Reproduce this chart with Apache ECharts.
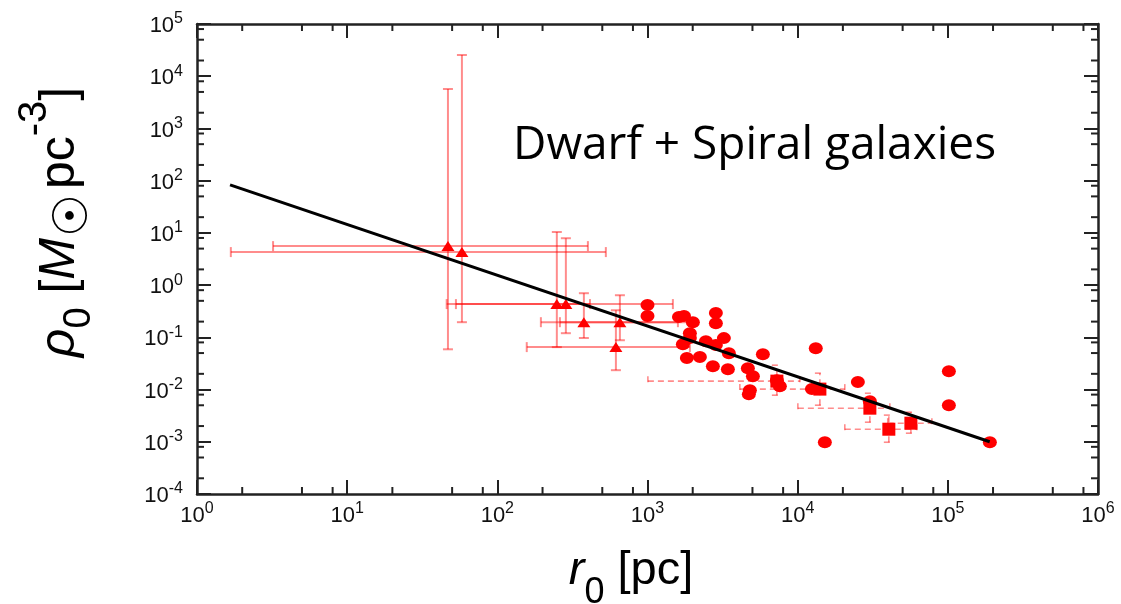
<!DOCTYPE html>
<html>
<head>
<meta charset="utf-8">
<script src="https://cdn.jsdelivr.net/npm/echarts@6/dist/echarts.min.js"></script>
<style>
html, body { margin: 0; padding: 0; background: #fff; }
#main { width: 1121px; height: 604px; }
</style>
</head>
<body>
<div id="main"></div>
<script>
// circles (no error bars)
var circR = [1000, 1000, 1620, 1750, 2005, 2853, 2853, 1915, 1915, 1720, 2448, 2853, 3226, 3483, 1829, 2233, 2725, 3430, 5866, 4660, 5034, 7270, 7610, 4805, 4730, 13200, 12440, 25170, 15170, 101600, 101600, 190500, 30260];
var circRho = [0.414, 0.255, 0.244, 0.255, 0.195, 0.291, 0.187, 0.120, 0.0966, 0.074, 0.0845, 0.071, 0.0966, 0.0498, 0.040, 0.0418, 0.028, 0.0246, 0.0476, 0.0257, 0.018, 0.0151, 0.0116, 0.00975, 0.00817, 0.062, 0.0102, 0.0139, 0.00098, 0.0225, 0.00502, 0.00098, 0.0060];

// triangles, solid error bars
var triR = [46.9, 58.1, 249, 286, 377, 655, 616];
var triRho = [5.58, 4.29, 0.433, 0.433, 0.195, 0.195, 0.065];
var triRLo = [3.21, 1.68, 46, 53, 195, 261, 157];
var triRHi = [401, 528, 1476, 414, 1594, 1915, 1915];
var triRhoLo = [0.059, 0.195, 0.065, 0.12, 0.097, 0.088, 0.0235];
var triRhoHi = [5690, 25500, 10.4, 7.9, 0.70, 0.64, 0.33];

// squares, dashed error bars
var sqR = [7270, 14060, 30260, 40470, 56750];
var sqRho = [0.0145, 0.0102, 0.0044, 0.00174, 0.00227];
var sqRLo = [1006, 4120, 10030, 20600, 39800];
var sqRHi = [10350, 20600, 41100, 62200, 78300];
var sqRhoLo = [0.0078, 0.00502, 0.00237, 0.00098, 0.00146];
var sqRhoHi = [0.0293, 0.0206, 0.0085, 0.00324, 0.00369];

// fitted line
var fitR = [1.66, 1.9e5];
var fitRho = [83, 1.0e-3];

var minorSteps = [2, 5, 8];

function zip(a, b) { return a.map(function(v, i) { return [v, b[i]]; }); }
function errRows(x, y, xl, xh, yl, yh) {
    return x.map(function(v, i) { return [v, y[i], xl[i], xh[i], yl[i], yh[i]]; });
}

function errRender(dash, width) {
    return function(params, api) {
        var x = api.value(0), y = api.value(1);
        var pl = api.coord([api.value(2), y]), ph = api.coord([api.value(3), y]);
        var ql = api.coord([x, api.value(4)]), qh = api.coord([x, api.value(5)]);
        var cap = 5;
        var st = { stroke: 'rgba(255,0,0,0.45)', lineWidth: width, lineDash: dash };
        var seg = function(x1, y1, x2, y2) {
            return { type: 'line', shape: { x1: x1, y1: y1, x2: x2, y2: y2 }, style: st };
        };
        return {
            type: 'group',
            children: [
                seg(pl[0], pl[1], ph[0], ph[1]),
                seg(pl[0], pl[1] - cap, pl[0], pl[1] + cap),
                seg(ph[0], ph[1] - cap, ph[0], ph[1] + cap),
                seg(ql[0], ql[1], qh[0], qh[1]),
                seg(ql[0] - cap, ql[1], ql[0] + cap, ql[1]),
                seg(qh[0] - cap, qh[1], qh[0] + cap, qh[1])
            ]
        };
    };
}

// minor tick positions
var xMinor = [], yMinor = [];
for (var e = 0; e < 6; e++) minorSteps.forEach(function(m) { xMinor.push([m * Math.pow(10, e), 1]); });
for (var e2 = -4; e2 < 5; e2++) minorSteps.forEach(function(m) { yMinor.push([1, m * Math.pow(10, e2)]); });

function minorRender(isX) {
    return function(params, api) {
        var len = 7;
        var st = { stroke: '#222', lineWidth: 2 };
        if (isX) {
            var v = api.value(0);
            var b = api.coord([v, 1e-4]), t = api.coord([v, 1e5]);
            return { type: 'group', children: [
                { type: 'line', shape: { x1: b[0], y1: b[1], x2: b[0], y2: b[1] - len }, style: st },
                { type: 'line', shape: { x1: t[0], y1: t[1], x2: t[0], y2: t[1] + len }, style: st }
            ] };
        }
        var w = api.value(1);
        var l = api.coord([1, w]), r = api.coord([1e6, w]);
        return { type: 'group', children: [
            { type: 'line', shape: { x1: l[0], y1: l[1], x2: l[0] + len, y2: l[1] }, style: st },
            { type: 'line', shape: { x1: r[0], y1: r[1], x2: r[0] - len, y2: r[1] }, style: st }
        ] };
    };
}

function powLabel(v) {
    var n = Math.round(Math.log(v) / Math.LN10);
    return '{b|10}{s|' + n + '}';
}
var labelRich = {
    b: { fontFamily: 'Liberation Sans', fontSize: 22, color: '#111', verticalAlign: 'bottom', lineHeight: 26 },
    s: { fontFamily: 'Liberation Sans', fontSize: 16, color: '#111', verticalAlign: 'top', lineHeight: 26 }
};

var axisLineSt = { lineStyle: { color: '#222', width: 2.5 } };
var tickSt = { inside: true, length: 14, lineStyle: { color: '#222', width: 2 } };

var myChart = echarts.init(document.getElementById('main'));
var option = {
    backgroundColor: '#fff',
    animation: false,
    grid: { left: 197, right: 23, top: 24, bottom: 110 },
    xAxis: [{
        type: 'log', logBase: 10, min: 1, max: 1e6, interval: 1,
        axisLine: axisLineSt, axisTick: tickSt,
        splitLine: { show: false },
        axisLabel: { formatter: powLabel, rich: labelRich, margin: 7 }
    }, {
        type: 'log', logBase: 10, min: 1, max: 1e6, interval: 1, position: 'top',
        axisLine: axisLineSt, axisTick: tickSt,
        splitLine: { show: false }, axisLabel: { show: false }
    }],
    yAxis: [{
        type: 'log', logBase: 10, min: 1e-4, max: 1e5, interval: 1,
        axisLine: axisLineSt, axisTick: tickSt,
        splitLine: { show: false },
        axisLabel: { formatter: powLabel, rich: labelRich, margin: 14 }
    }, {
        type: 'log', logBase: 10, min: 1e-4, max: 1e5, interval: 1, position: 'right',
        axisLine: axisLineSt, axisTick: tickSt,
        splitLine: { show: false }, axisLabel: { show: false }
    }],
    graphic: [{
        type: 'text', left: 513, top: 123,
        style: { text: 'Dwarf + Spiral galaxies', fontFamily: 'Open Sans', fontSize: 46, fill: '#000' }
    }, {
        type: 'text', x: 57, y: 222, rotation: Math.PI / 2,
        style: {
            text: '{i|ρ}{sub|0}{n| [}{i|M}{sun|☉}{n|pc}{sup|-3}{n|]}',
            align: 'center', verticalAlign: 'middle',
            rich: {
                i: { fontFamily: 'Liberation Sans', fontStyle: 'italic', fontSize: 50, fill: '#000', verticalAlign: 'bottom', padding: [0, 0, 14, 0] },
                n: { fontFamily: 'Liberation Sans', fontSize: 50, fill: '#000', verticalAlign: 'bottom', padding: [0, 0, 14, 0] },
                sub: { fontFamily: 'Liberation Sans', fontSize: 38, fill: '#000', verticalAlign: 'bottom', padding: [0, 0, 0, 0] },
                sun: { fontFamily: 'DejaVu Sans', fontSize: 48, fontWeight: 'bold', fill: '#000', verticalAlign: 'bottom', padding: [0, 5, 0, 1] },
                sup: { fontFamily: 'Liberation Sans', fontSize: 40, fill: '#000', verticalAlign: 'bottom', padding: [0, 0, 44, 0] }
            }
        }
    }, {
        type: 'text', x: 631, y: 581,
        style: {
            text: '{i|r}{sub|0}{n| [pc]}',
            align: 'center', verticalAlign: 'middle',
            rich: {
                i: { fontFamily: 'Liberation Sans', fontStyle: 'italic', fontSize: 47, fill: '#000', verticalAlign: 'bottom', padding: [0, 0, 20, 0] },
                n: { fontFamily: 'Liberation Sans', fontSize: 47, fill: '#000', verticalAlign: 'bottom', padding: [0, 0, 20, 0] },
                sub: { fontFamily: 'Liberation Sans', fontSize: 36, fill: '#000', verticalAlign: 'bottom', padding: [0, 0, 3, 0] }
            }
        }
    }],
    series: [{
        type: 'custom', renderItem: minorRender(true), data: xMinor, silent: true, z: 1
    }, {
        type: 'custom', renderItem: minorRender(false), data: yMinor, silent: true, z: 1
    }, {
        type: 'custom', renderItem: errRender(null, 2),
        data: errRows(triR, triRho, triRLo, triRHi, triRhoLo, triRhoHi),
        encode: { x: 0, y: 1 }, z: 2
    }, {
        type: 'custom', renderItem: errRender([6, 4], 1.6),
        data: errRows(sqR, sqRho, sqRLo, sqRHi, sqRhoLo, sqRhoHi),
        encode: { x: 0, y: 1 }, z: 2
    }, {
        type: 'scatter', symbol: 'circle', symbolSize: [14, 12],
        itemStyle: { color: '#ff0000', opacity: 1 }, data: zip(circR, circRho), z: 3
    }, {
        type: 'scatter', symbol: 'triangle', symbolSize: [13, 10],
        itemStyle: { color: '#ff0000', opacity: 1 }, data: zip(triR, triRho), z: 3
    }, {
        type: 'scatter', symbol: 'rect', symbolSize: 13,
        itemStyle: { color: '#ff0000', opacity: 1 }, data: zip(sqR, sqRho), z: 3
    }, {
        type: 'line', data: zip(fitR, fitRho), symbol: 'none',
        lineStyle: { color: '#000', width: 3 }, z: 4
    }]
};
myChart.setOption(option, true);
</script>
</body>
</html>
